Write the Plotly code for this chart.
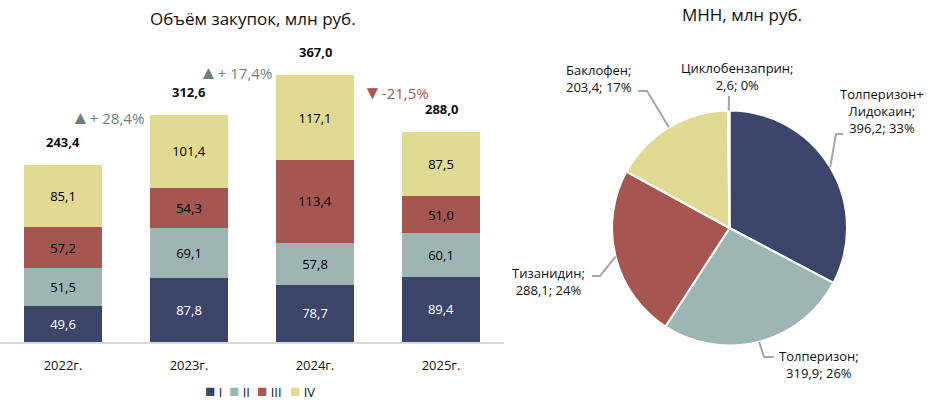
import math
import plotly.graph_objects as go

W, H = 948, 410

years = ["2022г.", "2023г.", "2024г.", "2025г."]
quarters = ["I", "II", "III", "IV"]
q1 = [49.6, 87.8, 78.7, 89.4]
q2 = [51.5, 69.1, 57.8, 60.1]
q3 = [57.2, 54.3, 113.4, 51.0]
q4 = [85.1, 101.4, 117.1, 87.5]
bar_colors = ["#3b4569", "#9db6b3", "#a55651", "#e1da93"]
bar_text_colors = ["white", "black", "black", "black"]

pie_labels = ["Толперизон+<br>Лидокаин", "Толперизон", "Тизанидин", "Баклофен", "Циклобензаприн"]
pie_values = [396.2, 319.9, 288.1, 203.4, 2.6]
pie_colors = ["#3b4569", "#9db6b3", "#a55651", "#e1da93", "#e1da93"]

FONT = "Open Sans"


def fmt(v, d=1):
    return f"{v:.{d}f}".replace(".", ",")


def px_x(x):
    return x / W


def px_y(y):
    return 1 - y / H


fig = go.Figure()

series = [q1, q2, q3, q4]
for name, vals, col, tcol in zip(quarters, series, bar_colors, bar_text_colors):
    fig.add_trace(go.Bar(
        x=years, y=vals, name=name,
        marker=dict(color=col, line=dict(width=0)),
        text=[fmt(v) for v in vals], textposition="inside",
        insidetextanchor="middle", textangle=0, constraintext="none",
        textfont=dict(color=tcol, size=13, family=FONT),
        hoverinfo="skip", showlegend=False,
    ))

totals = [a + b + c + d for a, b, c, d in zip(q1, q2, q3, q4)]

annotations = []
for yr, t in zip(years, totals):
    annotations.append(dict(
        x=yr, y=t, xref="x", yref="y", text=f"<b>{fmt(t)}</b>",
        showarrow=False, xanchor="center", yanchor="bottom", yshift=12,
        font=dict(size=13, color="#111111", family=FONT)))

# growth labels
growth_pos = [(0.35, 309), (1.37, 371), (2.64, 343)]
for i in range(1, len(totals)):
    g = (totals[i] / totals[i - 1] - 1) * 100
    if g >= 0:
        txt = f"<span style='font-size:19px'>▲</span>+ {fmt(g)}%"
        col = "#6e7f7c"
    else:
        txt = f"<span style='font-size:19px'>▼</span>-{fmt(abs(g))}%"
        col = "#a55651"
    gx, gy = growth_pos[i - 1]
    annotations.append(dict(
        x=gx, y=gy, xref="x", yref="y", text=txt, showarrow=False,
        xanchor="center", yanchor="middle",
        font=dict(size=15, color=col, family=FONT)))

# titles
annotations.append(dict(x=px_x(253), y=px_y(18), xref="paper", yref="paper",
                        text="Объём закупок, млн руб.", showarrow=False,
                        xanchor="center", yanchor="middle",
                        font=dict(size=17, color="#111111", family=FONT)))
annotations.append(dict(x=px_x(742), y=px_y(14), xref="paper", yref="paper",
                        text="МНН, млн руб.", showarrow=False,
                        xanchor="center", yanchor="middle",
                        font=dict(size=17, color="#111111", family=FONT)))

# manual compact legend
legend_x = [203, 227, 255, 288]
for name, col, lx in zip(quarters, bar_colors, legend_x):
    annotations.append(dict(
        x=px_x(lx), y=px_y(390), xref="paper", yref="paper",
        text=f"<span style='color:{col};font-size:17px'>■</span> {name}",
        showarrow=False, xanchor="left", yanchor="middle",
        font=dict(size=13, color="#111111", family=FONT)))

# pie
pie_dom_x = [px_x(612), px_x(847)]
pie_dom_y = [px_y(346), px_y(110)]
fig.add_trace(go.Pie(
    labels=[l.replace("<br>", "") for l in pie_labels], values=pie_values,
    marker=dict(colors=pie_colors, line=dict(color="white", width=2)),
    sort=False, direction="clockwise", rotation=0, textinfo="none",
    domain=dict(x=pie_dom_x, y=pie_dom_y), showlegend=False, hoverinfo="skip",
))

cx = (612 + 847) / 2
cy = (110 + 346) / 2
R = min(847 - 612, 346 - 110) / 2
total_pie = sum(pie_values)

# label layout (pixel positions): text center, elbow, end
label_layout = [
    dict(text=(882, 111), elbow=(836, 134), end=(843, 134)),
    dict(text=(819, 364), elbow=(764, 357), end=(774, 357)),
    dict(text=(548, 281), elbow=(600, 276), end=(592, 276)),
    dict(text=(599, 79), elbow=(647, 91), end=(638, 91)),
    dict(text=(737, 77), elbow=(729, 96), end=(729, 96)),
]

shapes = []
cum = 0
for lab, val, lay in zip(pie_labels, pie_values, label_layout):
    mid = (cum + val / 2) / total_pie
    cum += val
    ang = 2 * math.pi * mid
    ex = cx + R * math.sin(ang)
    ey = cy - R * math.cos(ang)
    pts = [(ex, ey), lay["elbow"], lay["end"]]
    path = "M " + " L ".join(f"{px_x(x)},{px_y(y)}" for x, y in pts)
    shapes.append(dict(type="path", path=path, xref="paper", yref="paper",
                       line=dict(color="#a6a6a6", width=2)))
    pct = round(val / total_pie * 100)
    txt = f"{lab};<br>{fmt(val)}; {pct}%"
    annotations.append(dict(x=px_x(lay["text"][0]), y=px_y(lay["text"][1]),
                            xref="paper", yref="paper", text=txt,
                            showarrow=False, align="center",
                            xanchor="center", yanchor="middle",
                            font=dict(size=13, color="#111111", family=FONT)))

fig.update_layout(
    width=W, height=H, barmode="stack", bargap=0.38,
    margin=dict(l=0, r=0, t=0, b=0),
    paper_bgcolor="white", plot_bgcolor="white",
    font=dict(family=FONT, size=13, color="#111111"),
    showlegend=False,
    xaxis=dict(domain=[0, px_x(504)], showline=True, linecolor="#d9d9d9",
               linewidth=2, ticks="", showgrid=False, ticklabelstandoff=10,
               tickfont=dict(size=13, color="#111111")),
    yaxis=dict(domain=[px_y(342), px_y(40)], range=[0, 302 / 0.7275],
               visible=False, showgrid=False),
    annotations=annotations, shapes=shapes,
)

fig.write_html("out.html")
